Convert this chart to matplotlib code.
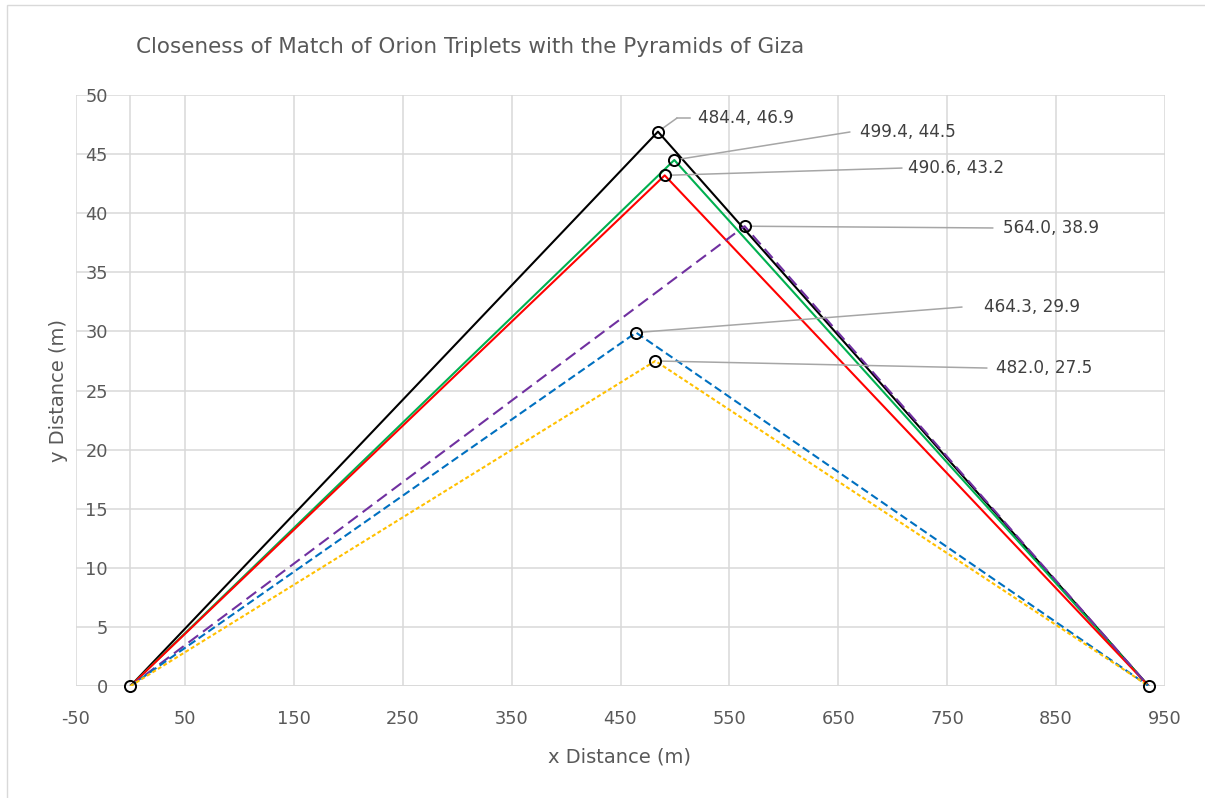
import matplotlib
matplotlib.use("Agg")
import matplotlib.pyplot as plt
from matplotlib.patches import Rectangle

# ---- data ----
start_x, start_y = 0.0, 0.0
end_x, end_y = 935.0, 0.0
peak_x = [484.4, 499.4, 490.6, 564.0, 464.3, 482.0]
peak_y = [46.9, 44.5, 43.2, 38.9, 29.9, 27.5]
series_colors = ["#000000", "#00B050", "#FF0000", "#7030A0", "#0070C0", "#FFC000"]
series_styles = ["solid", "solid", "solid", "longdash", "dash", "dot"]
peak_labels = ["484.4, 46.9", "499.4, 44.5", "490.6, 43.2", "564.0, 38.9", "464.3, 29.9", "482.0, 27.5"]

x_ticks = list(range(-50, 951, 100))
y_ticks = list(range(0, 51, 5))

title = "Closeness of Match of Orion Triplets with the Pyramids of Giza"
x_title = "x Distance (m)"
y_title = "y Distance (m)"

# ---- layout (label anchors, data coordinates) ----
leader_end = [(513.8, 48.05), (660.7, 46.87), (708.5, 43.82), (792.0, 38.75), (763.6, 32.06), (786.5, 26.9)]
text_left = [521.0, 669.5, 714.0, 801.0, 784.0, 795.0]
kink = {0: (501.9, 48.05)}

plt.rcParams["font.family"] = ["DejaVu Sans"]
plt.rcParams["axes.unicode_minus"] = False

W, H = 1205, 798
fig = plt.figure(figsize=(W / 100, H / 100), dpi=100)
fig.patches.append(Rectangle((7 / W, -0.02), 1.05, 1 - 5 / H + 0.02, transform=fig.transFigure,
                             fill=False, edgecolor="#d9d9d9", linewidth=1.0, zorder=0))

ax = fig.add_axes([76 / W, 1 - 686 / H, (1165 - 76) / W, (686 - 95) / H])
ax.set_xlim(-50, 950)
ax.set_ylim(0, 50)
ax.set_xticks(x_ticks)
ax.set_yticks(y_ticks)
for s in ax.spines.values():
    s.set_visible(False)
ax.grid(True, color="#d9d9d9", linewidth=1.1, zorder=0)
ax.axvline(0, color="#d9d9d9", linewidth=1.1, zorder=0)
ax.axhline(0, color="#d9d9d9", linewidth=1.1, zorder=0)
ax.set_axisbelow(True)
ax.tick_params(axis="both", length=0, labelsize=12.8, labelcolor="#595959")
ax.tick_params(axis="y", pad=-23)
ax.tick_params(axis="x", pad=17)

dash_map = {"solid": "-", "longdash": (0, (5.8, 2.9)), "dash": (0, (3.8, 1.9)), "dot": (0, (1.9, 1.2))}
for px, py, c, st in zip(peak_x, peak_y, series_colors, series_styles):
    ax.plot([start_x, px, end_x], [start_y, py, end_y], color=c, linewidth=1.5,
            linestyle=dash_map[st], zorder=3, solid_capstyle="butt")

ax.plot(peak_x + [start_x, end_x], peak_y + [start_y, end_y], linestyle="none", marker="o",
        markersize=8, markerfacecolor="none", markeredgecolor="black", markeredgewidth=1.4,
        zorder=5, clip_on=False)

for i, (px, py, lab) in enumerate(zip(peak_x, peak_y, peak_labels)):
    lx, ly = leader_end[i]
    if i in kink:
        kx, ky = kink[i]
        ax.plot([kx, lx], [ky, ly], color="#a6a6a6", linewidth=1.1, zorder=4)
        ax.annotate("", xy=(px, py), xytext=(kx, ky),
                    arrowprops=dict(arrowstyle="-", color="#a6a6a6", linewidth=1.1, shrinkA=0, shrinkB=4), zorder=4)
    else:
        ax.annotate("", xy=(px, py), xytext=(lx, ly),
                    arrowprops=dict(arrowstyle="-", color="#a6a6a6", linewidth=1.1, shrinkA=0, shrinkB=4), zorder=4)
    ax.text(text_left[i], ly, lab, ha="left", va="center", fontsize=12.2, color="#404040", zorder=6)

fig.text(136 / W, 1 - 47 / H, title, ha="left", va="center", fontsize=15.5, color="#595959")
fig.text(620 / W, 1 - 757 / H, x_title, ha="center", va="center", fontsize=14, color="#595959")
fig.text(59 / W, 1 - 390 / H, y_title, ha="center", va="center", rotation=90, fontsize=14, color="#595959")

fig.savefig("out.png", dpi=100)
